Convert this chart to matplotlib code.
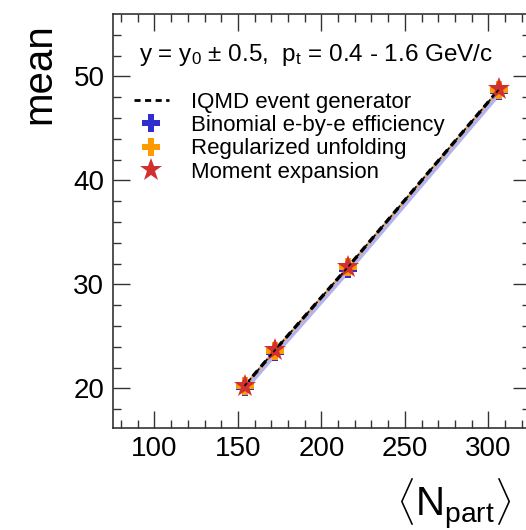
import numpy as np
import matplotlib.pyplot as plt
from matplotlib.lines import Line2D

plt.rcParams['font.family'] = ['Liberation Sans', 'DejaVu Sans']
plt.rcParams['mathtext.fontset'] = 'custom'
plt.rcParams['mathtext.rm'] = 'Liberation Sans'
plt.rcParams['mathtext.it'] = 'Liberation Sans:italic'

# centrality classes: mean number of participants
npart = np.array([154.0, 172.2, 216.0, 306.4])

# mean of the distribution for each reconstruction method
iqmd = np.array([20.25, 23.68, 31.69, 48.75])
binomial = np.array([20.1, 23.5, 31.5, 48.55])
binomial_err = np.array([0.45, 0.45, 0.45, 0.45])
unfolding = np.array([20.2, 23.62, 31.63, 48.68])
moments = np.array([20.25, 23.68, 31.69, 48.75])

fig = plt.figure(figsize=(5.26, 5.30), dpi=100)
ax = fig.add_axes([112.7 / 526, 1 - 428 / 530, (530 - 112.7) / 526, 414 / 530])

ax.fill_between(npart, binomial - binomial_err, binomial + binomial_err,
                color='#b4b4ec', lw=0, zorder=1)
ax.plot(npart, unfolding, color='#ffa31a', lw=1.2, zorder=2)
ax.plot(npart, iqmd, color='black', lw=2.4, ls=(0, (2.2, 1.6)), zorder=3)
ax.plot(npart, binomial, ls='none', marker='P', ms=13, color='#2f2fd0', mew=0, zorder=4)
ax.plot(npart, unfolding, ls='none', marker='P', ms=13, color='#ff9a00', mew=0, zorder=5)
ax.plot(npart, moments, ls='none', marker='*', ms=17, color='#d03030', mew=0, zorder=6)
# redraw the dashed line over the markers so it stays visible
ax.plot(npart, iqmd, color='black', lw=1.2, ls=(0, (2.2, 1.6)), zorder=7)

ax.set_xlim(75, 325)
ax.set_ylim(16.2, 56)
ax.set_xticks([100, 150, 200, 250, 300])
ax.set_xticks(np.arange(80, 325, 10), minor=True)
ax.set_yticks([20, 30, 40, 50])
ax.set_yticks(np.arange(18, 56, 2), minor=True)
ax.tick_params(which='both', direction='in', top=True, right=True, width=1.0,
               labelsize=20, pad=6, color='#333333')
ax.tick_params(which='major', length=12)
ax.tick_params(which='minor', length=6)
for s in ax.spines.values():
    s.set_color('#333333')
    s.set_linewidth(1.2)

ax.set_ylabel('mean', fontsize=29)
ax.yaxis.label.set_ha('center')
ax.yaxis.label.set_va('center')
ax.yaxis.set_label_coords(-0.175, 0.857)

ax.set_xlabel(r'$\langle\mathregular{N_{part}}\rangle$', fontsize=29)
ax.xaxis.label.set_ha('right')
ax.xaxis.label.set_va('top')
ax.xaxis.set_label_coords(0.955, -0.116)

ax.text(0.063, 0.902, 'y = y$\\mathregular{_0}$ ± 0.5,  p$\\mathregular{_t}$ = 0.4 - 1.6 GeV/c',
        transform=ax.transAxes, fontsize=17.5, ha='left', va='center')

handles = [
    Line2D([], [], color='black', lw=2, ls=(0, (2.2, 1.6))),
    Line2D([], [], ls='none', marker='P', ms=13, color='#2f2fd0', mew=0),
    Line2D([], [], ls='none', marker='P', ms=13, color='#ff9a00', mew=0),
    Line2D([], [], ls='none', marker='*', ms=17, color='#d03030', mew=0),
]
labels = ['IQMD event generator', 'Binomial e-by-e efficiency',
          'Regularized unfolding', 'Moment expansion']
ax.legend(handles, labels, loc='upper left', bbox_to_anchor=(0.03, 0.833),
          frameon=False, fontsize=16, handlelength=1.55, handletextpad=1.0,
          labelspacing=0.1, borderaxespad=0)

fig.savefig('out.png', dpi=100)
